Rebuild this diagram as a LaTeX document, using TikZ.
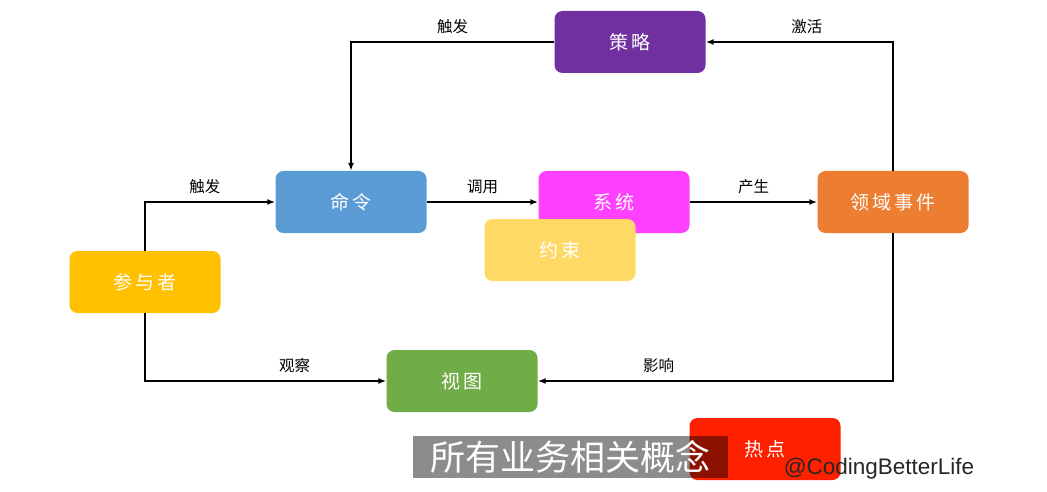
\documentclass[tikz,border=0pt]{standalone}
\usepackage{fontspec}
\newfontfamily\cjk{Noto Sans CJK SC}
\setsansfont{Liberation Sans}
\usetikzlibrary{arrows.meta}
\definecolor{cpolicy}{HTML}{7030A0}
\definecolor{ccommand}{HTML}{5B9BD5}
\definecolor{csystem}{HTML}{FF40FF}
\definecolor{cconstraint}{HTML}{FFD966}
\definecolor{cevent}{HTML}{ED7D31}
\definecolor{cactor}{HTML}{FFC000}
\definecolor{cview}{HTML}{70AD47}
\definecolor{chot}{HTML}{FF2000}
\begin{document}
\begin{tikzpicture}[x=1pt,y=-1pt,
  box/.style={rounded corners=8pt,minimum width=151pt,minimum height=62pt,
    inner sep=0pt,text=white,font=\cjk\fontsize{19}{22}\selectfont},
  flow/.style={-{Latex[length=8pt,width=6pt]},line width=1.7pt},
  lbl/.style={font=\cjk\fontsize{15.5}{18}\selectfont,above=4pt}]
\useasboundingbox[fill=white] (0,0) rectangle (1047,492);
% boxes
\node[box,fill=cpolicy] (policy) at (630,42) {策\,略};
\node[box,fill=ccommand] (command) at (351,202) {命\,令};
\node[box,fill=csystem] (system) at (614,202) {系\,统};
\node[box,fill=cconstraint] (constraint) at (560,250) {约\,束};
\node[box,fill=cevent] (event) at (893,202) {领\,域\,事\,件};
\node[box,fill=cactor] (actor) at (145,282) {参\,与\,者};
\node[box,fill=cview] (view) at (462,381) {视\,图};
\node[box,fill=chot] (hotspot) at (765,449) {热\,点};
% connectors
\draw[flow] (actor.north) |- (command.west) node[lbl,pos=0.73]{触发};
\draw[flow] (actor.south) |- (view.west) node[lbl,pos=0.81]{观察};
\draw[flow] (command.east) -- (system.west) node[lbl,pos=0.5]{调用};
\draw[flow] (system.east) -- (event.west) node[lbl,pos=0.5]{产生};
\draw[flow] (event.north) |- (policy.east) node[lbl,pos=0.73]{激活};
\draw[flow] (policy.west) -| (command.north) node[lbl,pos=0.25]{触发};
\draw[flow] (event.south) |- (view.east) node[lbl,pos=0.83]{影响};
% caption
\node[fill=black,fill opacity=0.45,text opacity=1,text=white,inner sep=0pt,
  minimum width=315pt,minimum height=42pt,font=\cjk\fontsize{35}{37}\selectfont]
  (caption) at (570,457) {所有业务相关概念};
\node[font=\sffamily\fontsize{22.5}{24}\selectfont,text=black!85] (mark) at (879,469) {@CodingBetterLife};
\end{tikzpicture}
\end{document}
